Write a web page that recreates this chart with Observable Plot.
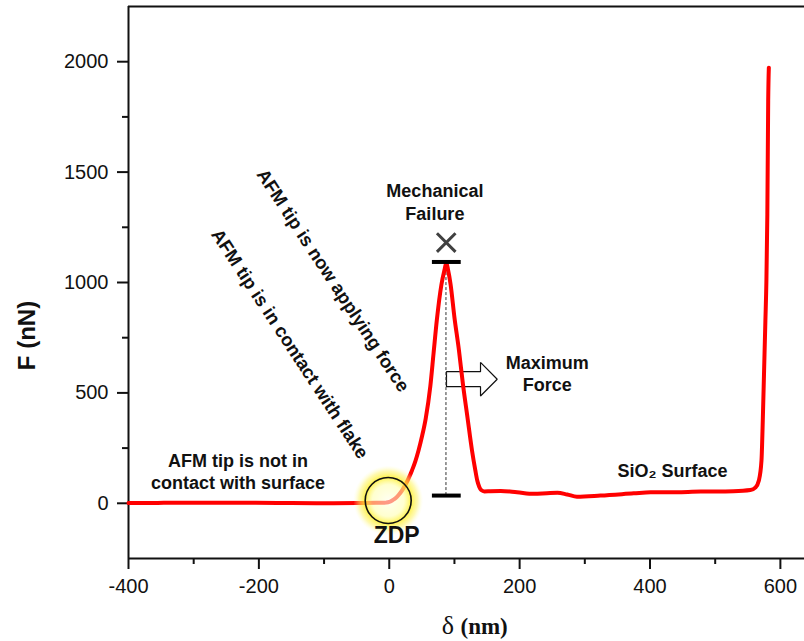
<!DOCTYPE html>
<html><head><meta charset="utf-8">
<script src="https://cdn.jsdelivr.net/npm/d3@7"></script>
<script src="https://cdn.jsdelivr.net/npm/@observablehq/plot@0.6"></script>
<style>body{margin:0;background:#fff} #chart svg{display:block}</style>
</head><body><div id="chart"></div>
<script>
// Force–indentation curve
const deltaNm = [-400,-370,-346,-300,-250,-205,-150,-100,-50,-20,-10,-5,0,5,10,15,20,25,30,35,40,45,50,56,63,68,73,80,85,87.5,90,94,100,107,113,120,127,132,135,138,141,146,155,171,196,222,242,258,273,288,324,375,401,426,478,528,554,562,567,571,573,575,577,578.5,580,581.3,582.3];
const forceNn = [1,1,2,3,3,2,1,0,1,2,2,3,6,14,24,40,60,85,115,150,190,240,300,385,530,680,830,990,1060,1090,1060,993,842,691,540,389,238,150,103,75,60,54,55,56,50,43,46,48,40,30,35,45,50,50,53,55,60,72,103,193,374,600,826,1000,1309,1822,1973];

const xTicks = [-400,-200,0,200,400,600];
const xMinorTicks = [-300,-100,100,300,500];
const yTicks = [0,500,1000,1500,2000];
const yMinorTicks = [250,750,1250,1750];

// Annotations (data units)
const peakDelta = 87;
const peakForce = 1093;
const baseForce = 35;
const barFrom = 66.2, barTo = 110.4;
const failX = 87.4, failY = 1181;
const zdpX = -1.6, zdpY = 12.7;

const noteLabels = ["Mechanical","Failure","Maximum","Force","SiO\u2082 Surface","AFM tip is not in","contact with surface"];
const noteX = [70,70,242.3,242.3,434.5,-232,-232];
const noteY = [1386,1284,610,510,118,163.5,65.7];

const slantLabels = ["AFM tip is now applying force","AFM tip is in contact with flake"];
const slantX = [-86.6,-152.7];
const slantY = [1009,722];

const arrowX = [87.8,140,140,165.6,140,140,87.8,87.8];
const arrowY = [528,528,486,562,638,596,596,528];

const font = "'Liberation Sans', Arial, Helvetica, sans-serif";
const data = deltaNm.map((d,i)=>({delta:d, force:forceNn[i]}));
const notes = noteLabels.map((t,i)=>({t, x:noteX[i], y:noteY[i]}));
const slants = slantLabels.map((t,i)=>({t, x:slantX[i], y:slantY[i]}));
const arrow = arrowX.map((x,i)=>({x, y:arrowY[i]}));

function glowDefs(){
  const defs = d3.create("svg:defs");
  const g = defs.append("radialGradient").attr("id","zdpGlow");
  [[0,"#ffffe8",0.6],[0.45,"#ffffb0",0.6],[0.66,"#fff030",0.85],[0.84,"#fff466",0.5],[1,"#ffffc0",0]]
    .forEach(([o,c,a])=>g.append("stop").attr("offset",o).attr("stop-color",c).attr("stop-opacity",a));
  return defs.node();
}

const plot = Plot.plot({
  width: 804, height: 641,
  marginLeft: 128, marginRight: 0, marginTop: 6, marginBottom: 83,
  x: {domain: [-400, 637]},
  y: {domain: [-250, 2250]},
  style: {fontFamily: font, background: "white", color: "#111", overflow: "visible"},
  marks: [
    glowDefs,
    Plot.axisX({ticks: xTicks, tickSize: 11, tickPadding: 9, fontSize: 20, strokeWidth: 2, label: null, tickFormat: d => String(d)}),
    Plot.axisX({ticks: xMinorTicks, tickSize: 6, strokeWidth: 2, label: null, tickFormat: () => ""}),
    Plot.axisY({ticks: yTicks, tickSize: 11, tickPadding: 9, fontSize: 20, strokeWidth: 2, label: null, tickFormat: d => String(d)}),
    Plot.axisY({ticks: yMinorTicks, tickSize: 6, strokeWidth: 2, label: null, tickFormat: () => ""}),
    Plot.ruleX([-400], {strokeWidth: 2, stroke: "#111"}),
    Plot.ruleY([-250], {strokeWidth: 2, stroke: "#111"}),
    Plot.ruleY([2250], {strokeWidth: 2, stroke: "#111"}),
    Plot.line(arrow, {x: "x", y: "y", fill: "white", stroke: "#111", strokeWidth: 1.2, strokeLinejoin: "miter", curve: "linear"}),
    Plot.ruleX([peakDelta], {y1: baseForce, y2: peakForce, stroke: "#333", strokeWidth: 1, strokeDasharray: "3,2"}),
    Plot.line(data, {x: "delta", y: "force", stroke: "#ff0000", strokeWidth: 4, curve: "monotone-x"}),
    Plot.dot([{x: zdpX, y: zdpY}], {x: "x", y: "y", r: 35, fill: "url(#zdpGlow)", stroke: "none"}),
    Plot.dot([{x: zdpX, y: zdpY}], {x: "x", y: "y", r: 23, fill: "none", stroke: "#111", strokeWidth: 1.6}),
    Plot.ruleY([peakForce, baseForce], {x1: barFrom, x2: barTo, stroke: "#000", strokeWidth: 4}),
    Plot.dot([{x: failX, y: failY}], {x: "x", y: "y", symbol: "times", r: 8.5, stroke: "#404040", strokeWidth: 3}),
    Plot.text(notes, {x: "x", y: "y", text: "t", fontSize: 18, fontWeight: "bold", lineAnchor: "bottom", textAnchor: "middle", fill: "#111"}),
    Plot.text(slants, {x: "x", y: "y", text: "t", fontSize: 18.5, fontWeight: "bold", lineAnchor: "middle", textAnchor: "middle", rotate: 56.7, fill: "#111"}),
    Plot.text([{x: 11.4, y: -180.7}], {x: "x", y: "y", text: () => "ZDP", fontSize: 23, fontWeight: "bold", lineAnchor: "bottom", textAnchor: "middle", fill: "#111"}),
    Plot.text([{x: -555, y: 760}], {x: "x", y: "y", text: () => "F (nN)", fontSize: 24, fontWeight: "bold", rotate: -90, lineAnchor: "middle", textAnchor: "middle", fill: "#111"}),
    Plot.text([{x: 90.1, y: -591}], {x: "x", y: "y", text: () => "\u03b4", fontSize: 26, fontFamily: "'Liberation Serif', 'Times New Roman', serif", lineAnchor: "bottom", textAnchor: "middle", fill: "#111"}),
    Plot.text([{x: 109.3, y: -591}], {x: "x", y: "y", text: () => "(nm)", fontSize: 23, fontWeight: "bold", fontFamily: "'Liberation Serif', 'Times New Roman', serif", lineAnchor: "bottom", textAnchor: "start", fill: "#111"})
  ]
});
document.getElementById("chart").append(plot);
</script>
</body></html>
